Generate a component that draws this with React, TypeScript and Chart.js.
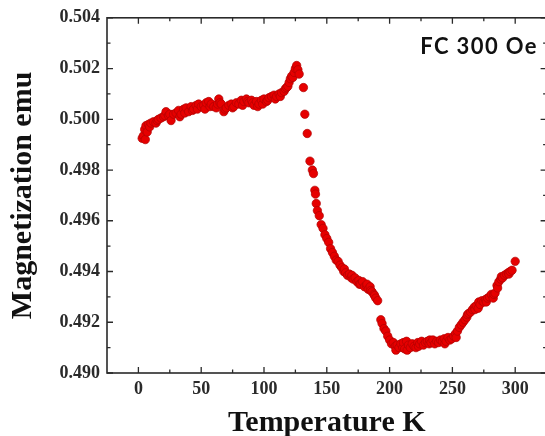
import React, { useEffect, useRef } from "react";
import { Chart, registerables } from "chart.js";

Chart.register(...registerables);

// Field-cooled magnetization curve, 300 Oe
const temperatureK: number[] = [
  // low-temperature branch
  3, 4, 5, 5.5, 6, 7, 8, 9, 10, 12, 14, 15, 16, 18, 20, 21, 22, 24, 25, 26,
  28, 30, 32, 33, 34, 36, 37, 38, 40, 42, 43, 44, 46, 47, 48, 50, 52, 53, 54, 56,
  57, 58, 60, 62, 63, 64, 65, 66, 68, 69, 70, 72, 74, 75, 76, 78, 80, 82, 83, 84,
  86, 87, 88, 90, 91, 92, 94, 95, 96, 98, 99, 100, 102, 103, 104, 106, 108, 109, 110, 112,
  113, 114, 116, 117, 118, 119, 120, 121, 122, 123, 124, 125, 126, 127, 128,
  // drop after the peak
  131.4, 132.5, 134.4, 136.6, 138.5, 139.4, 140.5, 141, 141.6, 142.5, 144, 145.5, 147, 148.5,
  150, 151.5, 153, 154.5, 156, 157.5, 159, 160.5, 162, 163.5, 164, 165, 166.5, 168, 169.5, 170,
  171, 172.5, 174, 175.5, 176, 177, 178.5, 180, 181.5, 182, 183, 184.5, 185, 186, 187.5, 188,
  189, 190.5,
  // minimum and upturn
  193, 194, 195.5, 197, 198.5, 200, 201.5, 203, 204.5, 205, 206, 207.5, 209, 210.5, 211,
  212, 213.5, 214, 215, 216.5, 218, 219.5, 221, 222.5, 223, 224, 225.5, 227, 228.5, 230,
  231.5, 232, 233, 234.5, 236, 237.5, 239, 240.5, 242, 243.5, 244, 245, 246.5, 248, 249.5,
  251, 252.5, 253, 254, 255.5, 257, 258.5, 260, 261.5, 262, 263, 264.5, 266, 267.5, 268,
  269, 270.5, 271, 272, 273.5, 275, 276.5, 277, 278, 279.5, 281, 282.5, 283, 284, 285.5,
  286, 287, 288.5, 289, 290, 291.5, 293, 294.5, 295, 296, 297.5, 300,
];

const magnetizationEmu: number[] = [
  // low-temperature branch
  0.49925, 0.49935, 0.4996, 0.4992, 0.49975, 0.4995, 0.4998, 0.4997, 0.49985, 0.4999, 0.49985, 0.49995, 0.5, 0.50005, 0.5001, 0.50015, 0.5003, 0.50015, 0.5002, 0.49995,
  0.5002, 0.50025, 0.50035, 0.5001, 0.5002, 0.5004, 0.50025, 0.50045, 0.5003, 0.5005, 0.50035, 0.5004, 0.50055, 0.5004, 0.5006, 0.5005, 0.50055, 0.5004, 0.50065, 0.5007,
  0.5005, 0.5006, 0.5005, 0.50045, 0.5006, 0.5008, 0.50065, 0.5006, 0.5003, 0.5004, 0.50045, 0.50055, 0.5006, 0.50045, 0.5005, 0.50065, 0.5006, 0.50075, 0.50055, 0.5007,
  0.5008, 0.5007, 0.50065, 0.50075, 0.50065, 0.50055, 0.5007, 0.5005, 0.5006, 0.50075, 0.5006, 0.5008, 0.5007, 0.50075, 0.50085, 0.5009, 0.50095, 0.5008, 0.5009, 0.501,
  0.5009, 0.50105, 0.5011, 0.5012, 0.50125, 0.5013, 0.50145, 0.5016, 0.5017, 0.50165, 0.50185, 0.502, 0.50212, 0.50195, 0.50178,
  // drop after the peak
  0.50125, 0.5002, 0.49944, 0.49835, 0.498, 0.49786, 0.4972, 0.49705, 0.49668, 0.4964, 0.4962, 0.49585, 0.4957, 0.49545,
  0.4953, 0.49515, 0.4949, 0.49475, 0.4946, 0.49445, 0.4944, 0.49425, 0.49415, 0.494, 0.4941, 0.49395, 0.49385, 0.4939, 0.49375, 0.49385,
  0.4937, 0.49375, 0.4936, 0.49365, 0.4935, 0.4935, 0.4936, 0.4934, 0.49345, 0.4935, 0.4933, 0.4934, 0.49325, 0.4932, 0.4931, 0.49305,
  0.49295, 0.49285,
  // minimum and upturn
  0.4921, 0.49195, 0.49175, 0.49165, 0.49145, 0.4913, 0.49115, 0.4912, 0.49105, 0.4909, 0.4911, 0.491, 0.49115, 0.491, 0.4912,
  0.49095, 0.49125, 0.4909, 0.4911, 0.491, 0.49115, 0.49105, 0.491, 0.4912, 0.49105, 0.49115, 0.49125, 0.4911, 0.4912, 0.49125,
  0.49115, 0.4913, 0.4912, 0.4913, 0.49115, 0.49125, 0.4912, 0.4913, 0.49125, 0.49135, 0.49115, 0.49125, 0.4914, 0.4913, 0.49135,
  0.49145, 0.49155, 0.4914, 0.49165, 0.4918, 0.4919, 0.492, 0.4921, 0.4922, 0.4923, 0.49235, 0.4924, 0.4925, 0.4926, 0.4925,
  0.49265, 0.49255, 0.4928, 0.4927, 0.49285, 0.4928, 0.4929, 0.4928, 0.49295, 0.493, 0.4931, 0.49295, 0.4931, 0.49315, 0.49345,
  0.49335, 0.4936, 0.4937, 0.4938, 0.49375, 0.49385, 0.4939, 0.49395, 0.4939, 0.494, 0.49405, 0.4944,
];

const xTickValues: number[] = [0, 50, 100, 150, 200, 250, 300];
const xMinorValues: number[] = [25, 75, 125, 175, 225, 275];
const yTickValues: number[] = [0.49, 0.492, 0.494, 0.496, 0.498, 0.5, 0.502, 0.504];
const yMinorValues: number[] = [0.491, 0.493, 0.495, 0.497, 0.499, 0.501, 0.503];

const SERIF = '"Liberation Serif", "Times New Roman", serif';
const FRAME = "#2a2a2a";

// Boxed frame with inward major/minor ticks on all four sides, plus the field note
const framePlugin = {
  id: "frameTicks",
  afterDatasetsDraw(chart: any) {
    const { ctx, chartArea } = chart;
    const { left, right, top, bottom } = chartArea;
    const xs = chart.scales.x;
    const ys = chart.scales.y;
    ctx.save();
    ctx.strokeStyle = FRAME;
    ctx.lineWidth = 1.6;
    ctx.strokeRect(left, top, right - left, bottom - top);
    ctx.lineWidth = 1.3;
    const major = 6;
    const minor = 3.5;
    const hTick = (v: number, len: number) => {
      const px = xs.getPixelForValue(v);
      ctx.beginPath();
      ctx.moveTo(px, bottom);
      ctx.lineTo(px, bottom - len);
      ctx.moveTo(px, top);
      ctx.lineTo(px, top + len);
      ctx.stroke();
    };
    const vTick = (v: number, len: number) => {
      const py = ys.getPixelForValue(v);
      ctx.beginPath();
      ctx.moveTo(left, py);
      ctx.lineTo(left + len, py);
      ctx.moveTo(right, py);
      ctx.lineTo(right - len, py);
      ctx.stroke();
    };
    xTickValues.forEach((v) => hTick(v, major));
    xMinorValues.forEach((v) => hTick(v, minor));
    yTickValues.forEach((v) => vTick(v, major));
    yMinorValues.forEach((v) => vTick(v, minor));

    ctx.fillStyle = "#111";
    ctx.font = 'bold 22px Lato, "Open Sans", sans-serif';
    (ctx as any).letterSpacing = "1.4px";
    ctx.textAlign = "right";
    ctx.textBaseline = "middle";
    ctx.fillText("FC 300 Oe", 538, 47);
    ctx.restore();
  },
};

export default function App() {
  const canvasRef = useRef<HTMLCanvasElement | null>(null);

  useEffect(() => {
    const canvas = canvasRef.current;
    if (!canvas) return;
    const points = temperatureK.map((t, i) => ({ x: t, y: magnetizationEmu[i] }));
    const chart = new Chart(canvas, {
      type: "scatter",
      data: {
        datasets: [
          {
            data: points,
            pointRadius: 4.2,
            pointBackgroundColor: "#e60000",
            pointBorderColor: "#b00000",
            pointBorderWidth: 0.7,
            showLine: false,
          },
        ],
      },
      options: {
        animation: false,
        responsive: false,
        devicePixelRatio: 1,
        layout: { padding: { left: 0, right: 13.4, top: 17.5, bottom: 0 } },
        plugins: { legend: { display: false }, tooltip: { enabled: false } },
        scales: {
          x: {
            type: "linear",
            min: -25,
            max: 325,
            afterBuildTicks: (s: any) => {
              s.ticks = xTickValues.map((v) => ({ value: v }));
            },
            afterFit: (s: any) => {
              s.height = 63;
            },
            grid: { display: false, drawTicks: false },
            border: { display: false },
            ticks: {
              padding: 6,
              color: "#2a2a2a",
              font: { family: SERIF, size: 18, weight: "bold" },
              callback: (v: any) => String(v),
              maxRotation: 0,
            },
            title: {
              display: true,
              text: "Temperature K",
              color: "#111",
              font: { family: SERIF, size: 30, weight: "bold", lineHeight: 1 },
              padding: { top: 0, bottom: -2 },
            },
          },
          y: {
            type: "linear",
            min: 0.49,
            max: 0.504,
            afterBuildTicks: (s: any) => {
              s.ticks = yTickValues.map((v) => ({ value: v }));
            },
            afterFit: (s: any) => {
              s.width = 107;
            },
            grid: { display: false, drawTicks: false },
            border: { display: false },
            ticks: {
              padding: 7,
              color: "#2a2a2a",
              font: { family: SERIF, size: 18, weight: "bold" },
              callback: (v: any) => Number(v).toFixed(3),
            },
            title: {
              display: true,
              text: "Magnetization emu",
              color: "#111",
              font: { family: SERIF, size: 30, weight: "bold", lineHeight: 1 },
              padding: { top: 8, bottom: 0 },
            },
          },
        },
      },
      plugins: [framePlugin],
    });
    return () => chart.destroy();
  }, []);

  return (
    <div
      style={{
        position: "fixed",
        left: 0,
        top: 0,
        width: 545,
        height: 436,
        overflow: "hidden",
        background: "#fff",
      }}
    >
      <canvas ref={canvasRef} width={560} height={436} style={{ display: "block", width: 560, height: 436 }} />
    </div>
  );
}
